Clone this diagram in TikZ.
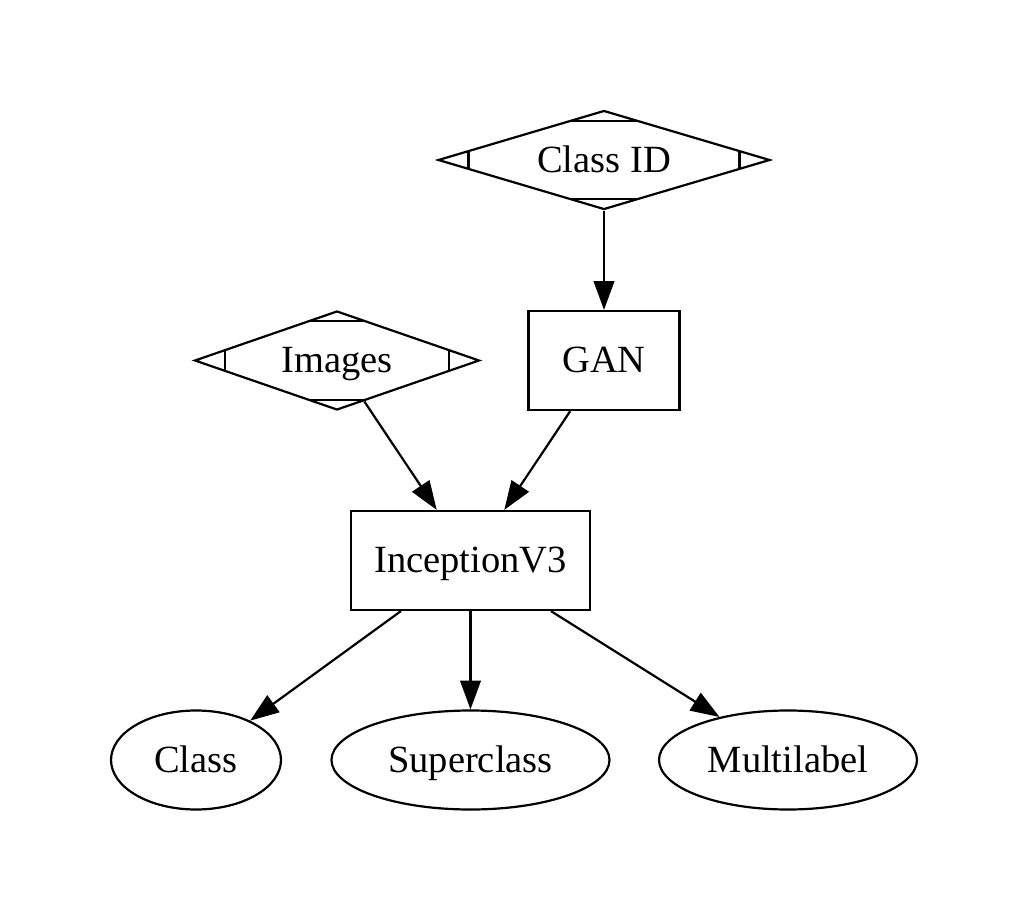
\documentclass[tikz,border=0pt]{standalone}
\usepackage{fontspec}
\setmainfont{Liberation Serif}
\usetikzlibrary{shapes.geometric,arrows.meta}

\begin{document}
\begin{tikzpicture}[
        x=0.363636pt, y=-0.363636pt,
        line width=0.8pt,
        font=\fontsize{14pt}{16pt}\selectfont,
        every node/.style={text height=12pt, text depth=3.2pt},
        mdia/.style={diamond, draw=black, inner sep=0pt, shape aspect=3.4, minimum height=36pt,
            path picture={
                \draw ([xshift=10.9pt]path picture bounding box.south west) -- ([xshift=10.9pt]path picture bounding box.north west);
                \draw ([xshift=-10.9pt]path picture bounding box.south east) -- ([xshift=-10.9pt]path picture bounding box.north east);
                \draw ([yshift=-3.6pt]path picture bounding box.north west) -- ([yshift=-3.6pt]path picture bounding box.north east);
                \draw ([yshift=3.6pt]path picture bounding box.south west) -- ([yshift=3.6pt]path picture bounding box.south east);
            }},
        proc/.style={rectangle, draw=black, minimum height=36pt},
        outp/.style={ellipse, draw=black, inner sep=0pt, minimum height=36pt},
        edge/.style={-{Triangle[length=10.5pt, width=7.5pt]}}
    ]
    \useasboundingbox (0,0) rectangle (1028,923);

    % Entradas
    \node[mdia, minimum width=120.7pt] (classid) at (604,160) {Class ID};
    \node[mdia, minimum width=103.6pt] (images) at (337,360.5) {Images};

    % Modelos
    \node[proc, minimum width=54.9pt] (gan) at (604,360.5) {GAN};
    \node[proc, minimum width=86.9pt] (incep) at (470.5,560.5) {InceptionV3};

    % Saidas
    \node[outp, minimum width=61.8pt] (cls) at (196,760) {Class};
    \node[outp, minimum width=101.1pt] (supcls) at (470.5,760) {Superclass};
    \node[outp, minimum width=93.8pt] (multi) at (788,760) {Multilabel};

    % Setas
    \draw[edge] (classid) -- (gan);
    \draw[edge] (images) -- (incep);
    \draw[edge] (gan) -- (incep);
    \draw[edge] (incep) -- (cls);
    \draw[edge] (incep) -- (supcls);
    \draw[edge] (incep) -- (multi);

\end{tikzpicture}
\end{document}
